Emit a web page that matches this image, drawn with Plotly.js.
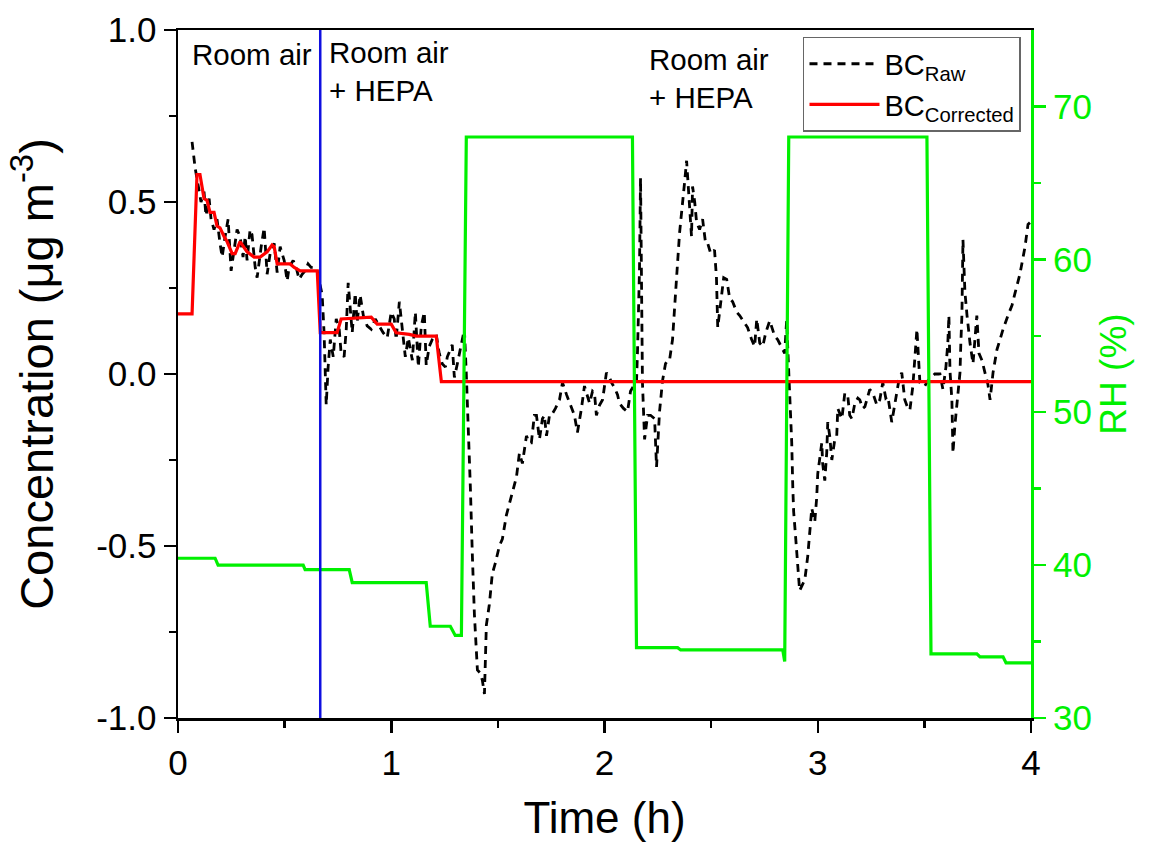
<!DOCTYPE html>
<html>
<head>
<meta charset="utf-8">
<script src="https://cdn.plot.ly/plotly-3.0.1.min.js"></script>
<style>html,body{margin:0;padding:0;background:#fff;}#chart{width:1153px;height:842px;}</style>
</head>
<body>
<div id="chart"></div>
<script>
// ---- data ----
const timeRaw = [0.066,0.080,0.094,0.108,0.122,0.131,0.146,0.155,0.169,0.183,0.197,0.207,0.221,0.235,0.249,0.268,0.277,0.291,0.305,0.315,0.324,0.338,0.347,0.362,0.371,0.390,0.404,0.418,0.432,0.451,0.465,0.479,0.498,0.512,0.521,0.540,0.554,0.568,0.582,0.596,0.610,0.624,0.638,0.653,0.676,0.685,0.695,0.704,0.714,0.728,0.742,0.756,0.765,0.779,0.789,0.798,0.808,0.817,0.831,0.840,0.854,0.869,0.887,0.906,0.925,0.944,0.962,0.981,1.000,1.014,1.023,1.038,1.052,1.066,1.080,1.099,1.113,1.127,1.141,1.155,1.164,1.178,1.192,1.211,1.225,1.239,1.254,1.263,1.286,1.296,1.310,1.319,1.333,1.343,1.352,1.362,1.371,1.380,1.390,1.404,1.418,1.427,1.437,1.446,1.460,1.474,1.488,1.507,1.521,1.540,1.563,1.587,1.601,1.615,1.634,1.648,1.657,1.671,1.681,1.695,1.709,1.718,1.728,1.742,1.751,1.770,1.789,1.803,1.822,1.845,1.859,1.873,1.892,1.906,1.920,1.930,1.944,1.953,1.962,1.977,1.991,2.009,2.023,2.033,2.047,2.061,2.070,2.089,2.108,2.122,2.136,2.150,2.155,2.164,2.169,2.174,2.178,2.188,2.202,2.216,2.235,2.244,2.258,2.272,2.286,2.296,2.305,2.319,2.329,2.338,2.352,2.366,2.376,2.385,2.399,2.408,2.413,2.423,2.432,2.446,2.460,2.474,2.484,2.498,2.516,2.525,2.531,2.545,2.559,2.573,2.587,2.601,2.620,2.634,2.653,2.671,2.690,2.704,2.714,2.728,2.742,2.756,2.775,2.789,2.798,2.812,2.831,2.845,2.854,2.864,2.873,2.878,2.883,2.887,2.897,2.906,2.915,2.930,2.939,2.953,2.962,2.972,2.986,2.995,3.000,3.019,3.023,3.033,3.042,3.047,3.056,3.066,3.080,3.089,3.094,3.113,3.127,3.141,3.150,3.160,3.174,3.188,3.197,3.211,3.221,3.235,3.244,3.258,3.277,3.291,3.305,3.319,3.329,3.347,3.362,3.380,3.394,3.408,3.423,3.432,3.446,3.455,3.465,3.479,3.493,3.502,3.516,3.531,3.549,3.573,3.587,3.601,3.610,3.615,3.620,3.629,3.634,3.643,3.653,3.667,3.671,3.676,3.681,3.690,3.700,3.714,3.728,3.746,3.756,3.770,3.784,3.798,3.808,3.822,3.840,3.854,3.869,3.892,3.911,3.925,3.948,3.972,3.986,3.995];
const bcRaw = [0.675,0.60,0.55,0.50,0.53,0.46,0.51,0.45,0.42,0.45,0.38,0.34,0.40,0.45,0.30,0.38,0.42,0.40,0.34,0.40,0.33,0.42,0.405,0.31,0.28,0.37,0.425,0.29,0.35,0.38,0.295,0.37,0.33,0.27,0.31,0.33,0.31,0.275,0.29,0.30,0.32,0.31,0.31,0.30,0.23,0.12,-0.09,0.02,0.10,0.05,0.16,0.13,0.06,0.05,0.13,0.265,0.19,0.12,0.235,0.15,0.23,0.17,0.14,0.13,0.16,0.14,0.12,0.105,0.18,0.16,0.10,0.21,0.13,0.05,0.105,0.04,0.18,0.02,0.14,0.18,0.025,0.08,0.10,0.115,0.06,0.03,0.02,0.05,0.085,-0.01,0.03,0.06,0.10,0.13,0.00,-0.15,-0.33,-0.52,-0.70,-0.86,-0.87,-0.89,-0.93,-0.73,-0.67,-0.58,-0.55,-0.50,-0.48,-0.41,-0.36,-0.30,-0.23,-0.26,-0.18,-0.20,-0.20,-0.12,-0.12,-0.19,-0.13,-0.12,-0.18,-0.12,-0.12,-0.10,-0.075,-0.025,-0.06,-0.095,-0.12,-0.17,-0.10,-0.035,-0.065,-0.085,-0.05,-0.055,-0.12,-0.09,-0.075,0.004,-0.01,-0.025,-0.04,-0.06,-0.085,-0.10,-0.11,-0.05,-0.035,-0.025,0.07,0.30,0.57,0.30,-0.025,-0.19,-0.12,-0.12,-0.13,-0.27,-0.11,-0.02,0.03,0.04,0.04,0.10,0.18,0.28,0.41,0.49,0.56,0.62,0.48,0.40,0.545,0.50,0.44,0.42,0.45,0.38,0.38,0.35,0.36,0.28,0.135,0.21,0.28,0.275,0.22,0.21,0.18,0.17,0.15,0.135,0.10,0.08,0.16,0.09,0.08,0.12,0.155,0.13,0.11,0.10,0.075,0.06,0.155,0.0,-0.10,-0.20,-0.33,-0.40,-0.48,-0.56,-0.63,-0.61,-0.60,-0.53,-0.46,-0.39,-0.43,-0.36,-0.29,-0.20,-0.26,-0.31,-0.23,-0.14,-0.18,-0.25,-0.19,-0.18,-0.10,-0.13,-0.055,-0.065,-0.12,-0.13,-0.085,-0.07,-0.075,-0.10,-0.095,-0.06,-0.045,-0.055,-0.09,-0.075,-0.025,-0.07,-0.065,-0.14,-0.085,-0.02,0.004,-0.075,-0.10,-0.105,-0.035,0.05,0.13,-0.025,-0.03,-0.035,-0.02,-0.01,0.0,0.0,-0.045,0.02,0.09,0.17,0.01,-0.075,-0.23,-0.15,-0.075,0.004,0.09,0.17,0.39,0.24,0.17,0.09,0.03,0.17,0.06,0.04,0.004,-0.03,-0.075,0.004,0.07,0.10,0.13,0.17,0.20,0.235,0.29,0.37,0.435,0.44];

const timeCorr = [0.000,0.066,0.089,0.103,0.122,0.136,0.150,0.169,0.183,0.197,0.216,0.230,0.254,0.268,0.291,0.324,0.357,0.385,0.418,0.441,0.451,0.465,0.526,0.545,0.573,0.653,0.667,0.746,0.765,0.906,0.934,1.000,1.023,1.085,1.117,1.211,1.235,4.000];
const bcCorr   = [0.175,0.175,0.58,0.58,0.51,0.505,0.47,0.47,0.43,0.425,0.40,0.385,0.35,0.35,0.385,0.355,0.34,0.34,0.355,0.375,0.37,0.32,0.32,0.31,0.30,0.30,0.12,0.12,0.16,0.165,0.145,0.145,0.12,0.115,0.11,0.11,-0.022,-0.022];

const timeRH = [0.000,0.174,0.188,0.587,0.596,0.803,0.817,1.164,1.183,1.277,1.300,1.329,1.352,2.131,2.150,2.343,2.357,2.836,2.845,2.864,3.512,3.531,3.746,3.761,3.869,3.883,4.000];
const rhValues = [40.45,40.45,40.0,40.0,39.7,39.7,38.85,38.85,36.0,36.0,35.4,35.4,68.0,68.0,34.6,34.6,34.45,34.45,33.7,68.0,68.0,34.2,34.2,34.0,34.0,33.6,33.6];

const hepaOnTime = 0.667;

const xTickVals = [0,1,2,3,4];
const xTickText = ['0','1','2','3','4'];
const xMinorVals = [0.5,1.5,2.5,3.5];
const yTickVals = [-1,-0.5,0,0.5,1];
const yTickText = ['-1.0','-0.5','0.0','0.5','1.0'];
const yMinorVals = [-0.75,-0.25,0.25,0.75];
const y2TickVals = [30,40,50,60,70];
const y2TickText = ['30','40','50','60','70'];
const y2MinorVals = [35,45,55,65];

const seriesNames = ['BC<sub>Raw</sub>','BC<sub>Corrected</sub>','RH'];
const annotationTexts = ['Room air','Room air<br>+ HEPA','Room air<br>+ HEPA'];
const annotationX = [0.058, 0.697, 2.197];
const annotationY = [0.929, 0.879, 0.859];

// ---- chart ----
const GREEN = '#00f000';
const FONT = 'Liberation Sans, Arial, sans-serif';
const traces = [
  {x: timeRaw, y: bcRaw, name: seriesNames[0], type:'scatter', mode:'lines',
   line:{color:'black', width:2.8, dash:'8px,6px'}, yaxis:'y'},
  {x: timeCorr, y: bcCorr, name: seriesNames[1], type:'scatter', mode:'lines',
   line:{color:'#ff0000', width:3.2}, yaxis:'y'},
  {x: timeRH, y: rhValues, name: seriesNames[2], type:'scatter', mode:'lines',
   line:{color:GREEN, width:3.2}, yaxis:'y2', showlegend:false}
];

const tickFont = {size:35, color:'black', family:FONT};
const layout = {
  width:1153, height:842,
  margin:{l:178, r:122, t:30, b:124},
  paper_bgcolor:'white', plot_bgcolor:'white',
  font:{family:FONT, color:'black'},
  showlegend:true,
  legend:{x:0.7327, y:0.99, xanchor:'left', yanchor:'top', bgcolor:'white',
    bordercolor:'#666', borderwidth:1.5, font:{size:29}, itemwidth:70, traceorder:'normal'},
  xaxis:{range:[0,4], tickmode:'array', tickvals:xTickVals, ticktext:xTickText,
    ticks:'outside', ticklen:12, tickwidth:2.5, tickcolor:'black',
    showline:true, linecolor:'black', linewidth:2.5, mirror:true,
    showgrid:false, zeroline:false, tickfont:tickFont,
    title:{text:'Time (h)', font:{size:44}, standoff:24},
    minor:{tickmode:'array', tickvals:xMinorVals, ticks:'outside', ticklen:7, tickwidth:2.5, tickcolor:'black', showgrid:false}},
  yaxis:{range:[-1,1], tickmode:'array', tickvals:yTickVals, ticktext:yTickText,
    ticks:'outside', ticklen:12, tickwidth:2.5, tickcolor:'black',
    showline:true, linecolor:'black', linewidth:2.5, mirror:false,
    showgrid:false, zeroline:false, tickfont:tickFont,
    title:{text:'Concentration (μg m<sup>-3</sup>)', font:{size:47}, standoff:28},
    minor:{tickmode:'array', tickvals:yMinorVals, ticks:'outside', ticklen:7, tickwidth:2.5, tickcolor:'black', showgrid:false}},
  yaxis2:{overlaying:'y', side:'right', anchor:'x', range:[30,75],
    tickmode:'array', tickvals:y2TickVals, ticktext:y2TickText,
    ticks:'outside', ticklen:12, tickwidth:2.5, tickcolor:GREEN,
    showline:true, linecolor:GREEN, linewidth:3,
    showgrid:false, zeroline:false, tickfont:{size:35, color:GREEN, family:FONT},
    title:{text:'RH (%)', font:{size:37, color:GREEN}, standoff:10},
    minor:{tickmode:'array', tickvals:y2MinorVals, ticks:'outside', ticklen:7, tickwidth:2.5, tickcolor:GREEN, showgrid:false}},
  shapes:[{type:'line', xref:'x', yref:'y', x0:hepaOnTime, x1:hepaOnTime, y0:-1, y1:1,
    line:{color:'#1010e0', width:2.5}, layer:'above'}],
  annotations: annotationTexts.map((t,i)=>({text:t, x:annotationX[i], y:annotationY[i],
    xref:'x', yref:'y', xanchor:'left', yanchor:'middle', align:'left', showarrow:false,
    font:{size:29.5, color:'black'}}))
};

Plotly.newPlot('chart', traces, layout, {displayModeBar:false, staticPlot:true});
</script>
</body>
</html>
